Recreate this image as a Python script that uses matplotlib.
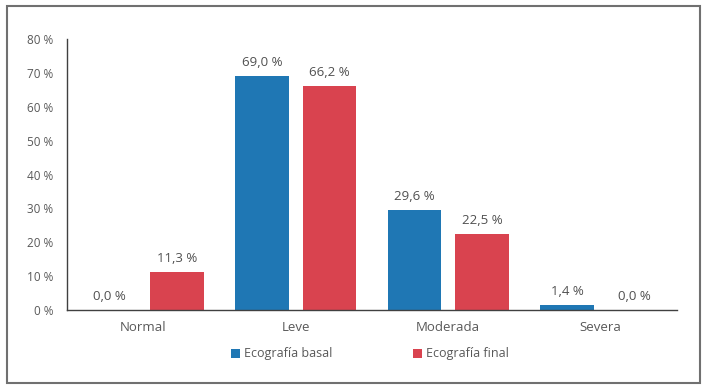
import matplotlib.pyplot as plt
import numpy as np
from matplotlib.patches import Rectangle

categories = ['Normal', 'Leve', 'Moderada', 'Severa']
basal = [0.0, 69.0, 29.6, 1.4]
final = [11.3, 66.2, 22.5, 0.0]
series_names = ['Ecografía basal', 'Ecografía final']
colors = ['#1f77b4', '#d9434f']
yticks = [0, 10, 20, 30, 40, 50, 60, 70, 80]

plt.rcParams['font.family'] = ['Open Sans', 'DejaVu Sans']
txt = '#595959'

fig = plt.figure(figsize=(7.08, 3.91), dpi=100)
fig.patches.append(Rectangle((7/708, 8/391), 693/708, 377/391, transform=fig.transFigure,
                             fill=False, edgecolor='#707070', linewidth=1.5))
ax = fig.add_axes([67/708, 1 - 310/391, 610/708, 271/391])

x = np.arange(len(categories))
w = 0.35
off = 0.222
b1 = ax.bar(x - off, basal, w, color=colors[0], label=series_names[0])
b2 = ax.bar(x + off, final, w, color=colors[1], label=series_names[1])

for bars, vals in [(b1, basal), (b2, final)]:
    for r, v in zip(bars, vals):
        ax.annotate(('%.1f %%' % v).replace('.', ','), (r.get_x() + r.get_width() / 2, v),
                    xytext=(0, 5), textcoords='offset points', ha='center', va='bottom',
                    fontsize=9.5, color='#505050', fontweight='medium')

ax.set_xlim(-0.5, 3.5)
ax.set_ylim(0, 80)
ax.set_yticks(yticks)
ax.set_yticklabels(['%d %%' % t for t in yticks], fontsize=8.5, color=txt)
ax.set_xticks(x)
ax.set_xticklabels(categories, fontsize=9.5, color=txt)
ax.tick_params(axis='both', length=0, pad=8)
ax.tick_params(axis='y', pad=10)
for s in ['top', 'right']:
    ax.spines[s].set_visible(False)
for s in ['left', 'bottom']:
    ax.spines[s].set_color('#404040')
    ax.spines[s].set_linewidth(1.0)

leg = fig.legend(loc='center', bbox_to_anchor=(370/708, 1 - 354/391), ncol=2, frameon=False,
                 fontsize=9, handlelength=0.7, handleheight=0.7, handletextpad=0.3,
                 columnspacing=6.5)
for t in leg.get_texts():
    t.set_color(txt)

fig.savefig('out.png', dpi=100)
